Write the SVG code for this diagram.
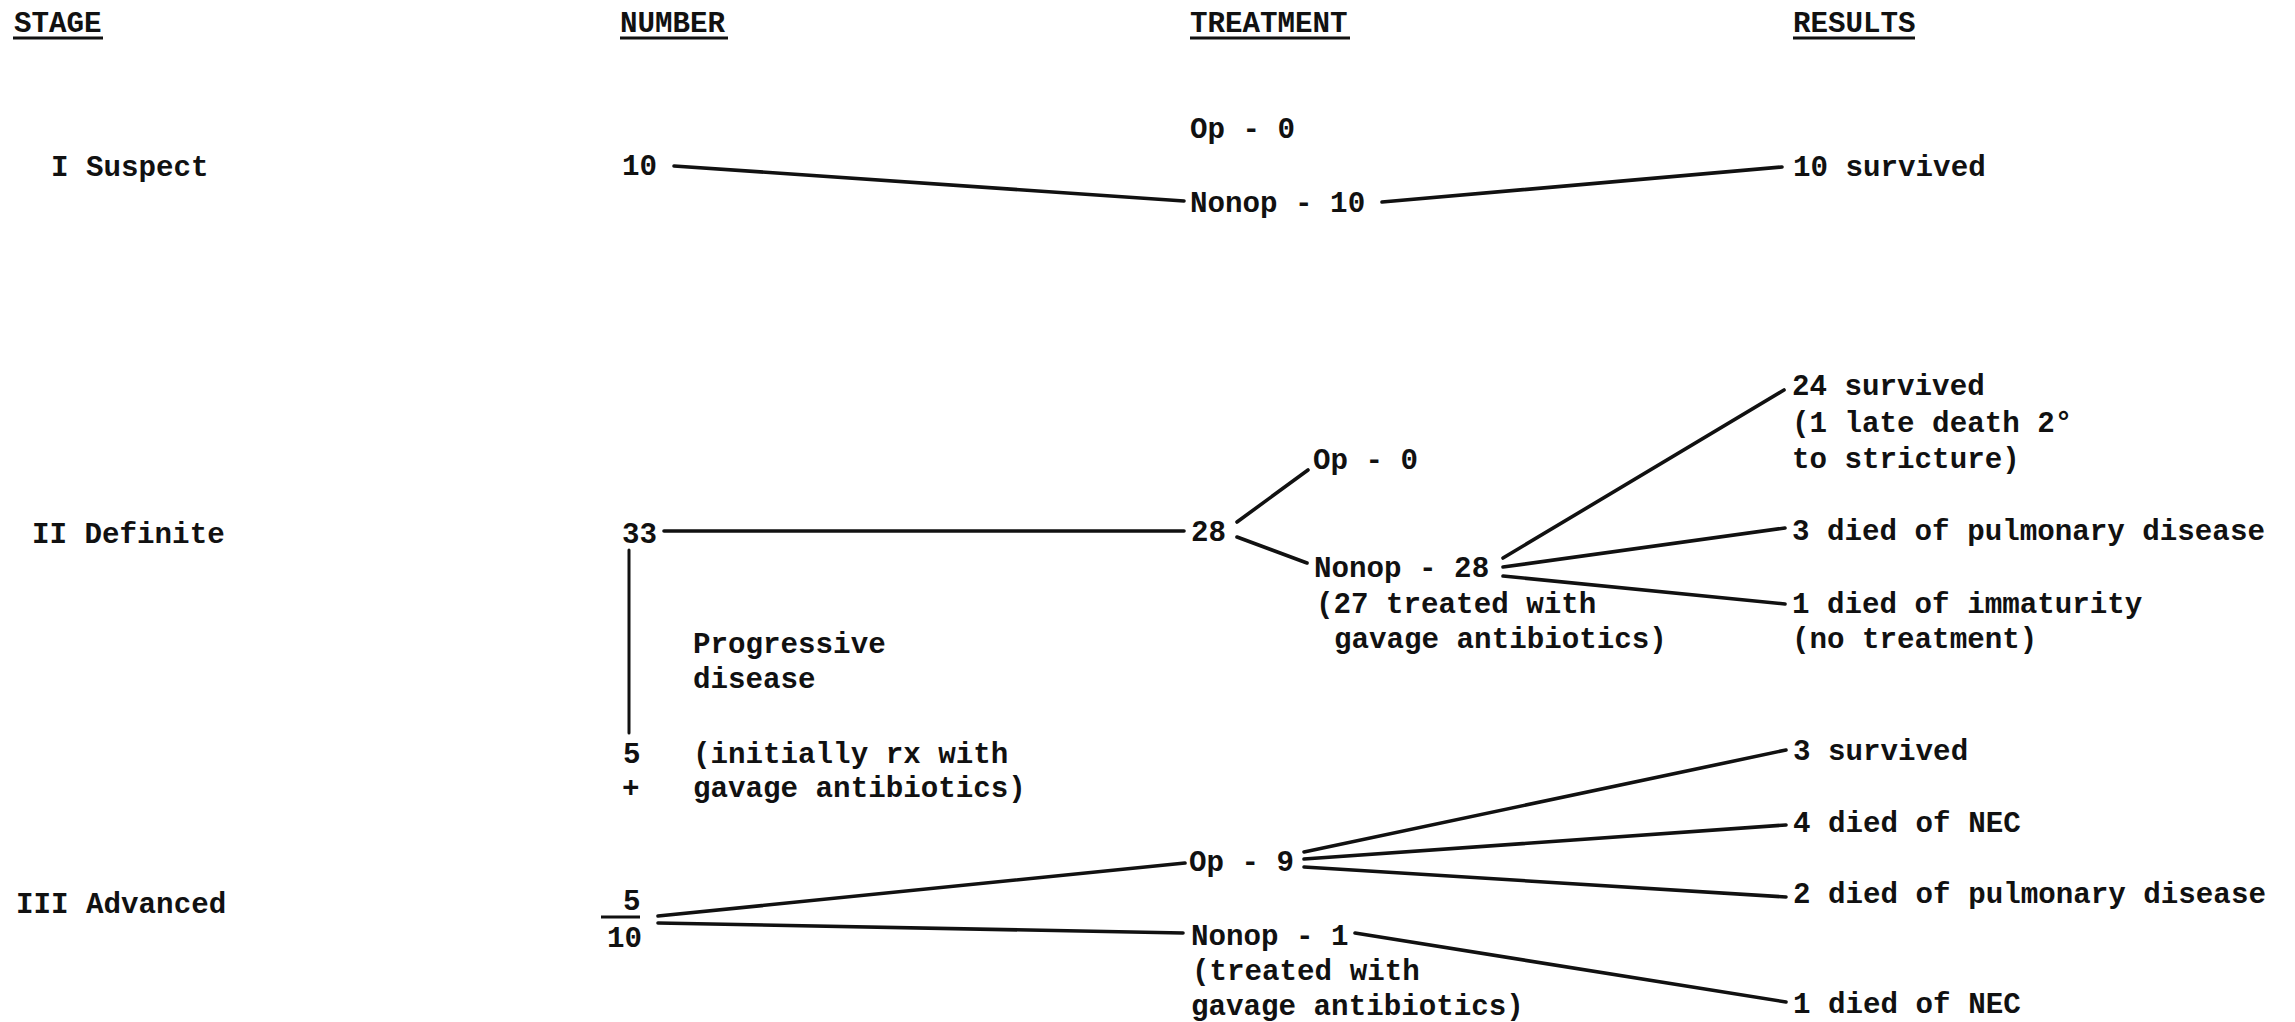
<svg xmlns="http://www.w3.org/2000/svg" width="2295" height="1022" viewBox="0 0 2295 1022">
<style>
text{font-family:"Liberation Mono","DejaVu Sans Mono",monospace;font-weight:bold;font-size:29.2px;fill:#111;}
.hd{font-size:29.2px;}
.ul{stroke:#111;stroke-width:3;}
.c line{stroke:#111;stroke-width:3.6;stroke-linecap:round;fill:none;}
.c .thin{stroke-width:3;}
</style>
<rect width="2295" height="1022" fill="#fff"/>
<g id="headers">
<g id="h-stage"><text class="hd" x="14" y="32">STAGE</text><line class="ul" x1="13" y1="38" x2="103" y2="38"/></g>
<g id="h-number"><text class="hd" x="620" y="32">NUMBER</text><line class="ul" x1="620" y1="38" x2="728" y2="38"/></g>
<g id="h-treatment"><text class="hd" x="1190" y="32">TREATMENT</text><line class="ul" x1="1190" y1="38" x2="1350" y2="38"/></g>
<g id="h-results"><text class="hd" x="1793" y="32">RESULTS</text><line class="ul" x1="1793" y1="38" x2="1915" y2="38"/></g>
</g>
<g id="stage1"><text x="51" y="176">I Suspect</text></g>
<g id="n10"><text x="622" y="175">10</text></g>
<g id="t1-op"><text x="1190" y="138">Op - 0</text></g>
<g id="t1-nonop"><text x="1190" y="212">Nonop - 10</text></g>
<g id="r1"><text x="1793" y="176">10 survived</text></g>

<g id="stage2"><text x="32" y="543">II Definite</text></g>
<g id="n33"><text x="622" y="543">33</text></g>
<g id="t2-28"><text x="1191" y="541">28</text></g>
<g id="t2-op"><text x="1313" y="469">Op - 0</text></g>
<g id="t2-nonop"><text x="1314" y="577">Nonop - 28</text><text x="1316" y="613">(27 treated with</text><text x="1334" y="648">gavage antibiotics)</text></g>
<g id="r2a"><text x="1792" y="395">24 survived</text><text x="1792" y="432">(1 late death 2°</text><text x="1792" y="468">to stricture)</text></g>
<g id="r2b"><text x="1792" y="540">3 died of pulmonary disease</text></g>
<g id="r2c"><text x="1792" y="613">1 died of immaturity</text><text x="1792" y="648">(no treatment)</text></g>
<g id="progress"><text x="693" y="653">Progressive</text><text x="693" y="688">disease</text><text x="693" y="763">(initially rx with</text><text x="693" y="797">gavage antibiotics)</text></g>
<g id="n5"><text x="623" y="763">5</text><text x="622" y="797">+</text></g>

<g id="stage3"><text x="16" y="913">III Advanced</text></g>
<g id="n5-10"><text x="623" y="910">5</text><line class="ul" x1="601" y1="917" x2="640" y2="917"/><text x="607" y="947">10</text></g>
<g id="t3-op"><text x="1189" y="871">Op - 9</text></g>
<g id="t3-nonop"><text x="1191" y="945">Nonop - 1</text><text x="1192" y="980">(treated with</text><text x="1191" y="1015">gavage antibiotics)</text></g>
<g id="r3a"><text x="1793" y="760">3 survived</text></g>
<g id="r3b"><text x="1793" y="832">4 died of NEC</text></g>
<g id="r3c"><text x="1793" y="903">2 died of pulmonary disease</text></g>
<g id="r3d"><text x="1793" y="1013">1 died of NEC</text></g>

<g id="connectors" class="c">
<line x1="674" y1="166" x2="1184" y2="201"/>
<line x1="1382" y1="202" x2="1782" y2="167"/>
<line x1="664" y1="531" x2="1184" y2="531"/>
<line x1="1237" y1="522" x2="1308" y2="470"/>
<line x1="1237" y1="537" x2="1307" y2="563"/>
<line x1="1503" y1="558" x2="1784" y2="390"/>
<line x1="1503" y1="567" x2="1785" y2="528"/>
<line x1="1503" y1="576" x2="1785" y2="604"/>
<line class="thin" x1="629" y1="550" x2="629" y2="733"/>
<line x1="658" y1="916" x2="1185" y2="863"/>
<line x1="658" y1="923" x2="1183" y2="933"/>
<line x1="1304" y1="852" x2="1786" y2="750"/>
<line x1="1304" y1="859" x2="1786" y2="825"/>
<line x1="1304" y1="867" x2="1786" y2="897"/>
<line x1="1355" y1="933" x2="1786" y2="1002"/>
</g>
</svg>
